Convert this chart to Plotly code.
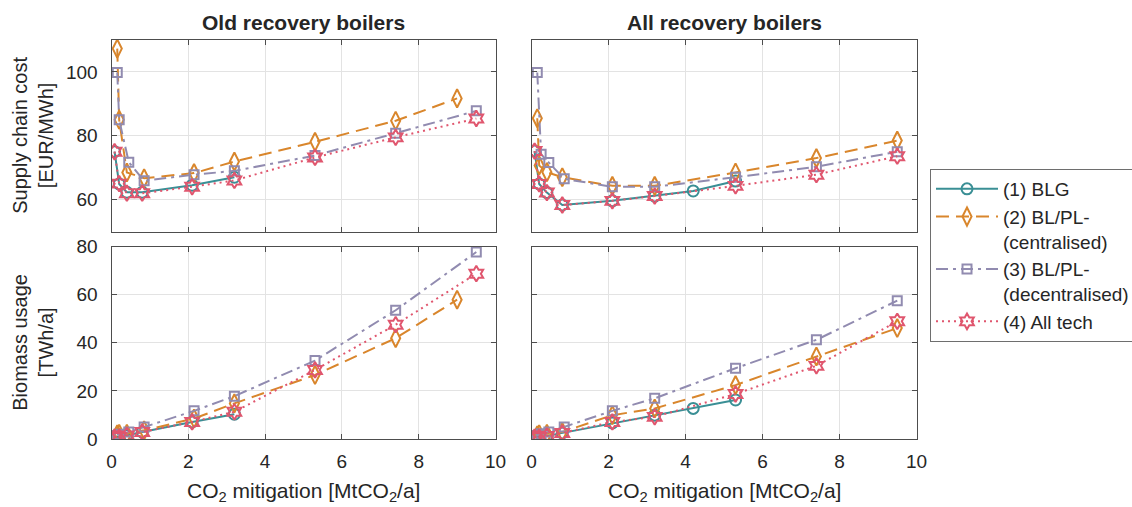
import plotly.graph_objects as go

# ---------------- data ----------------
# Old recovery boilers
old_blg_x = [0.08, 0.2, 0.4, 0.8, 2.1, 3.2]
old_blg_cost = [75, 64.9, 62.3, 62.3, 64.5, 67]
old_blg_bio = [0.8, 0.8, 1.5, 2.9, 7.1, 10.3]

old_cen_x = [0.15, 0.2, 0.4, 0.85, 2.15, 3.2, 5.3, 7.4, 9.0]
old_cen_cost = [107.3, 85, 68.5, 66.7, 68.3, 71.9, 78.1, 84.7, 91.7]
old_cen_bio = [2.0, 2.2, 2.2, 3.6, 8.5, 14.8, 26.6, 41.9, 57.9]

old_dec_x = [0.15, 0.2, 0.45, 0.85, 2.15, 3.2, 5.3, 7.4, 9.5]
old_dec_cost = [99.8, 85, 71.7, 65.9, 67.8, 69, 73.8, 80.8, 87.8]
old_dec_bio = [1.5, 2.0, 2.9, 5.0, 11.7, 17.8, 32.6, 53.5, 77.7]

old_all_x = [0.08, 0.2, 0.4, 0.8, 2.1, 3.2, 5.3, 7.4, 9.5]
old_all_cost = [75, 65, 62, 62, 64, 66, 73.2, 79.5, 85.4]
old_all_bio = [0.8, 0.8, 1.5, 2.9, 7.1, 11.3, 28.7, 47.5, 68.7]

# All recovery boilers
all_blg_x = [0.08, 0.2, 0.4, 0.8, 2.1, 3.2, 4.2, 5.3]
all_blg_cost = [75.2, 64.9, 62.2, 58.3, 59.6, 61.1, 62.7, 65.8]
all_blg_bio = [0.8, 0.8, 1.3, 2.5, 6.7, 9.9, 12.7, 16.2]

all_cen_x = [0.15, 0.2, 0.4, 0.8, 2.1, 3.2, 5.3, 7.4, 9.5]
all_cen_cost = [85.5, 70.7, 68.6, 67.0, 64.3, 64.3, 68.5, 73.0, 78.5]
all_cen_bio = [1.5, 2.0, 2.2, 2.9, 9.9, 12.7, 22.4, 34.3, 46.1]

all_dec_x = [0.15, 0.25, 0.45, 0.85, 2.1, 3.2, 5.3, 7.4, 9.5]
all_dec_cost = [99.8, 74.2, 71.6, 66.5, 64.0, 64.0, 67.0, 70.3, 75.0]
all_dec_bio = [1.5, 2.2, 2.9, 5.0, 11.7, 16.9, 29.4, 41.2, 57.5]

all_all_x = [0.08, 0.2, 0.4, 0.8, 2.1, 3.2, 5.3, 7.4, 9.5]
all_all_cost = [75.2, 64.9, 62.2, 58.3, 59.6, 61.1, 64.3, 67.8, 73.6]
all_all_bio = [0.8, 0.8, 1.3, 2.5, 7.1, 9.2, 18.7, 30.4, 48.9]

names = ["(1) BLG", "(2) BL/PL-<br>(centralised)", "(3) BL/PL-<br>(decentralised)", "(4) All tech"]
panel_titles = ["Old recovery boilers", "All recovery boilers"]
ylab_cost = "Supply chain cost<br>[EUR/MWh]"
ylab_bio = "Biomass usage<br>[TWh/a]"
xlab = "CO<sub>2</sub> mitigation [MtCO<sub>2</sub>/a]"

# ---------------- styles ----------------
colors = ["#3a8f95", "#d9862c", "#918bb0", "#e0566e"]
dashes = ["solid", "13px,7px", "12px,5px,3px,5px", "2px,4px"]
symbols = ["circle-open", "diamond-tall-open", "square-open", "hexagram-open"]
msizes = [11, 13, 9, 12]

W, H = 1132, 507
def fx(px): return px / W
def fy(py): return 1 - py / H

xd_left = [fx(111.5), fx(495.5)]
xd_right = [fx(531.5), fx(916.5)]
yd_top = [fy(231.5), fy(40)]
yd_bot = [fy(439), fy(246.5)]

FONT = "Liberation Sans, Arial, Helvetica, sans-serif"
TXT = "#262626"

fig = go.Figure()

panels = [
    ("x", "y", [(old_blg_x, old_blg_cost), (old_cen_x, old_cen_cost), (old_dec_x, old_dec_cost), (old_all_x, old_all_cost)]),
    ("x2", "y2", [(all_blg_x, all_blg_cost), (all_cen_x, all_cen_cost), (all_dec_x, all_dec_cost), (all_all_x, all_all_cost)]),
    ("x3", "y3", [(old_blg_x, old_blg_bio), (old_cen_x, old_cen_bio), (old_dec_x, old_dec_bio), (old_all_x, old_all_bio)]),
    ("x4", "y4", [(all_blg_x, all_blg_bio), (all_cen_x, all_cen_bio), (all_dec_x, all_dec_bio), (all_all_x, all_all_bio)]),
]

for p, (xa, ya, series) in enumerate(panels):
    for i, (xs, ys) in enumerate(series):
        fig.add_trace(go.Scatter(
            x=xs, y=ys, xaxis=xa, yaxis=ya, mode="lines+markers",
            name=names[i], legendgroup=str(i), showlegend=(p == 0),
            line=dict(color=colors[i], width=2, dash=dashes[i]),
            marker=dict(symbol=symbols[i], size=msizes[i], color=colors[i],
                        line=dict(width=2, color=colors[i])),
        ))

axis_common = dict(
    showline=True, linecolor="#4d4d4d", linewidth=1, mirror="ticks",
    ticks="inside", ticklen=5, tickcolor="#4d4d4d",
    showgrid=True, gridcolor="#e3e3e3", gridwidth=1, zeroline=False,
    tickfont=dict(family=FONT, size=19, color=TXT),
)

fig.update_layout(
    width=W, height=H, margin=dict(l=0, r=0, t=0, b=0, autoexpand=False),
    paper_bgcolor="white", plot_bgcolor="white",
    font=dict(family=FONT, size=19, color=TXT),
    xaxis=dict(domain=xd_left, range=[0, 10], dtick=2, anchor="y", showticklabels=False, **axis_common),
    xaxis2=dict(domain=xd_right, range=[0, 10], dtick=2, anchor="y2", showticklabels=False, **axis_common),
    xaxis3=dict(domain=xd_left, range=[0, 10], dtick=2, anchor="y3", ticklabelstandoff=5, **axis_common),
    xaxis4=dict(domain=xd_right, range=[0, 10], dtick=2, anchor="y4", ticklabelstandoff=5, **axis_common),
    yaxis=dict(domain=yd_top, range=[50, 110], tickvals=[60, 80, 100], anchor="x", ticklabelstandoff=9, **axis_common),
    yaxis2=dict(domain=yd_top, range=[50, 110], tickvals=[60, 80, 100], anchor="x2", showticklabels=False, **axis_common),
    yaxis3=dict(domain=yd_bot, range=[0, 80], dtick=20, anchor="x3", ticklabelstandoff=9, **axis_common),
    yaxis4=dict(domain=yd_bot, range=[0, 80], dtick=20, anchor="x4", showticklabels=False, **axis_common),
    legend=dict(
        x=fx(930), y=fy(169), xanchor="left", yanchor="top",
        bordercolor="#6e6e6e", borderwidth=1, bgcolor="white",
        font=dict(family=FONT, size=19, color=TXT),
        tracegroupgap=0, itemwidth=62, valign="top",
    ),
    showlegend=True,
)

# Panel titles
for t, xd in zip(panel_titles, [xd_left, xd_right]):
    fig.add_annotation(text="<b>" + t + "</b>", x=(xd[0] + xd[1]) / 2, y=fy(22),
                       xref="paper", yref="paper", showarrow=False,
                       font=dict(family=FONT, size=21, color=TXT),
                       xanchor="center", yanchor="middle")

# Y axis titles
for t, yd in zip([ylab_cost, ylab_bio], [yd_top, yd_bot]):
    fig.add_annotation(text=t, x=fx(33), y=(yd[0] + yd[1]) / 2,
                       xref="paper", yref="paper", showarrow=False, textangle=-90,
                       font=dict(family=FONT, size=20, color=TXT),
                       xanchor="center", yanchor="middle")

# X axis titles
for xd in [xd_left, xd_right]:
    fig.add_annotation(text=xlab, x=(xd[0] + xd[1]) / 2, y=fy(492),
                       xref="paper", yref="paper", showarrow=False,
                       font=dict(family=FONT, size=21, color=TXT),
                       xanchor="center", yanchor="middle")

fig.write_html("out.html")
